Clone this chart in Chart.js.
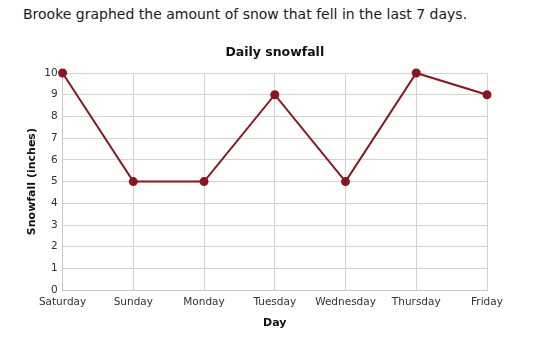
<!DOCTYPE html>
<html>
<head>
<meta charset="utf-8">
<script src="https://cdn.jsdelivr.net/npm/chart.js@4/dist/chart.umd.min.js"></script>
<style>
  html, body { margin: 0; padding: 0; background: #fff; }
  #wrap { position: relative; width: 535px; height: 358px; overflow: hidden; }
  #heading { position: absolute; left: 23px; top: 6px; font-family: "DejaVu Sans", Verdana, sans-serif; font-size: 14px; color: #1a1a1a; white-space: nowrap; }
  canvas { position: absolute; left: 0; top: 0; }
</style>
</head>
<body>
<div id="wrap">
  <div id="heading">Brooke graphed the amount of snow that fell in the last 7 days.</div>
  <canvas id="c" width="535" height="358"></canvas>
</div>
<script>
const days = ["Saturday", "Sunday", "Monday", "Tuesday", "Wednesday", "Thursday", "Friday"];
const snowfall = [10, 5, 5, 9, 5, 10, 9];
const chartTitle = "Daily snowfall";
const xTitle = "Day";
const yTitle = "Snowfall (inches)";

const FONT = '"DejaVu Sans", Verdana, sans-serif';
new Chart(document.getElementById('c'), {
  type: 'line',
  data: {
    labels: days,
    datasets: [{
      data: snowfall,
      borderColor: '#8a1520',
      backgroundColor: '#8a1520',
      borderWidth: 2,
      pointRadius: 3.5,
      pointHoverRadius: 3.5,
      tension: 0,
      fill: false,
      clip: false
    }]
  },
  options: {
    responsive: false,
    animation: false,
    layout: { padding: { top: 45, left: 26, right: 48, bottom: 28 } },
    plugins: {
      legend: { display: false },
      tooltip: { enabled: false },
      title: {
        display: true, text: chartTitle, color: '#111',
        fullSize: false,
        font: { family: FONT, size: 12.5, weight: 'bold' },
        padding: { top: 0, bottom: 13 }
      }
    },
    scales: {
      x: {
        offset: false,
        grid: { color: '#d3d3d3', drawTicks: false },
        border: { color: '#c8c8c8' },
        ticks: { color: '#333', font: { family: FONT, size: 10.5 }, padding: 6, maxRotation: 0, autoSkip: false },
        title: { display: true, text: xTitle, color: '#111', font: { family: FONT, size: 11, weight: 'bold' }, padding: { top: 2, bottom: 0 } }
      },
      y: {
        min: 0, max: 10,
        grid: { color: '#d3d3d3', drawTicks: false },
        border: { color: '#c8c8c8' },
        ticks: { stepSize: 1, color: '#333', font: { family: FONT, size: 10.5 }, padding: 5 },
        title: { display: true, text: yTitle, color: '#111', font: { family: FONT, size: 11, weight: 'bold' }, padding: { top: 0, bottom: 0 } }
      }
    }
  }
});
</script>
</body>
</html>
